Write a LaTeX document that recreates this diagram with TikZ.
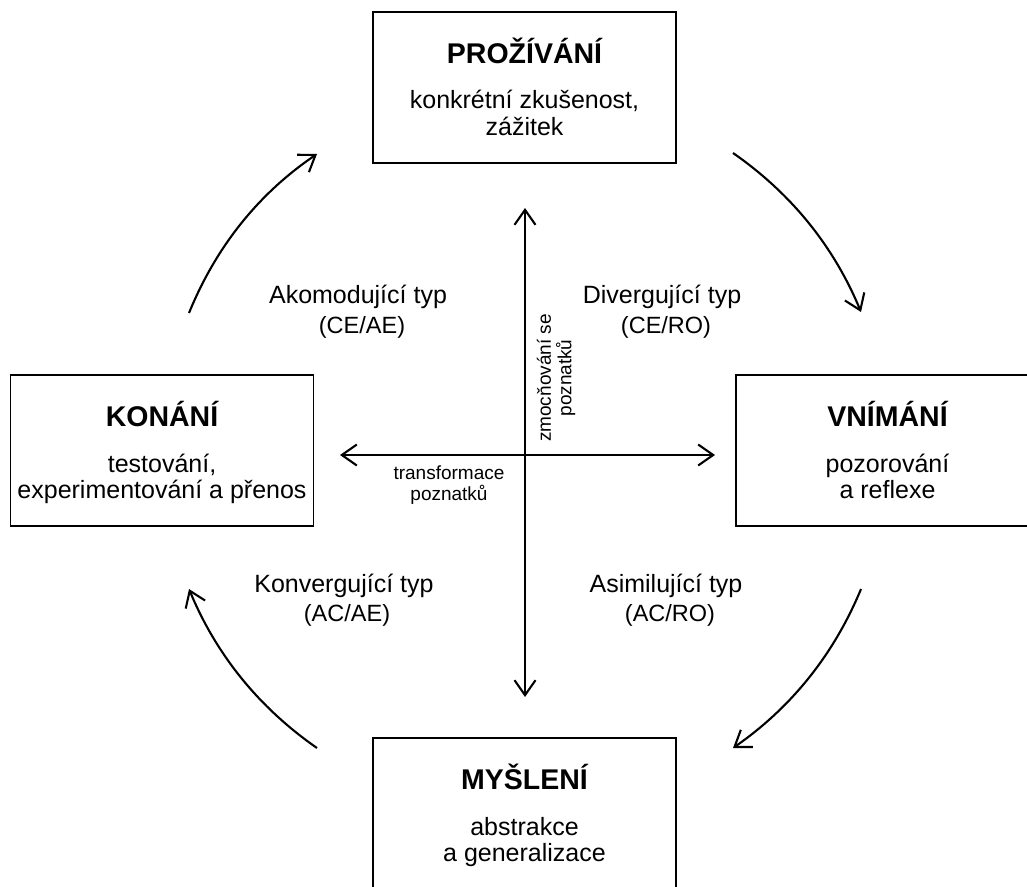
\documentclass[tikz,border=0pt]{standalone}
\usepackage{fontspec}
\setmainfont{Liberation Sans}
\usetikzlibrary{arrows.meta}
\tikzset{
  box/.style={draw, line width=1.3pt, minimum width=303pt, minimum height=151pt, inner sep=0pt},
  heading/.style={anchor=base, inner sep=0pt, font=\fontsize{28.5}{34}\selectfont\bfseries},
  body/.style={anchor=base, inner sep=0pt, font=\fontsize{25}{28}\selectfont},
  code/.style={anchor=base, inner sep=0pt, font=\fontsize{23.5}{28}\selectfont},
  small/.style={align=center, inner sep=0pt, font=\fontsize{19}{20.5}\selectfont},
  flow/.style={line width=2.1pt, -{Straight Barb[length=15pt,width=21pt]}},
  axis/.style={line width=2.1pt, {Straight Barb[length=15pt,width=21pt]}-{Straight Barb[length=15pt,width=21pt]}},
}
\begin{document}
\begin{tikzpicture}[x=1pt, y=-1pt]
\useasboundingbox (0,0) rectangle (1027,886);
\clip (0,0) rectangle (1027,886);

% the four stages of the cycle
\node[box] (prozivani) at (524.5,87.5) {};
\node[heading] (prozivaniT) at (524.5,63) {PROŽÍVÁNÍ};
\node[body] (prozivaniA) at (524.5,108) {konkrétní zkušenost,};
\node[body] (prozivaniB) at (524.5,135) {zážitek};

\node[box] (konani) at (162,450.5) {};
\node[heading] (konaniT) at (162,426) {KONÁNÍ};
\node[body] (konaniA) at (162,472) {testování,};
\node[body] (konaniB) at (162,498) {experimentování a přenos};

\node[box] (vnimani) at (887.5,450.5) {};
\node[heading] (vnimaniT) at (887.5,426) {VNÍMÁNÍ};
\node[body] (vnimaniA) at (887.5,472) {pozorování};
\node[body] (vnimaniB) at (887.5,498) {a reflexe};

\node[box] (mysleni) at (524.5,813.5) {};
\node[heading] (mysleniT) at (524.5,789) {MYŠLENÍ};
\node[body] (mysleniA) at (524.5,835) {abstrakce};
\node[body] (mysleniB) at (524.5,861) {a generalizace};

% learning styles in the quadrants
\node[body] (akomT) at (358,303) {Akomodující typ};
\node[code] (akomC) at (362,333) {(CE/AE)};
\node[body] (divT) at (662,303) {Divergující typ};
\node[code] (divC) at (666,333) {(CE/RO)};
\node[body] (konvT) at (344,592) {Konvergující typ};
\node[code] (konvC) at (347,621) {(AC/AE)};
\node[body] (asimT) at (666,592) {Asimilující typ};
\node[code] (asimC) at (670,621) {(AC/RO)};

% the two axes
\coordinate (vtop) at (525,208);
\coordinate (vbot) at (525,697);
\coordinate (hleft) at (340,455);
\coordinate (hright) at (715,455);
\draw[axis] (vbot) -- (vtop);
\draw[axis] (hleft) -- (hright);
\node[small, rotate=90] (zmoc) at (556,378) {zmocňování se\\poznatků};
\node[small] (transf) at (449,485) {transformace\\poznatků};

% curved arrows of the cycle
\coordinate (trS) at (733,153);  \coordinate (trE) at (861,312);
\coordinate (brS) at (861,589);  \coordinate (brE) at (733,748);
\coordinate (blS) at (317,748);  \coordinate (blE) at (189,589);
\coordinate (tlS) at (189,313);  \coordinate (tlE) at (317,154);
\draw[flow] (trS) .. controls (791.3,193.5) and (833.9,246.5) .. (trE);
\draw[flow] (brS) .. controls (833.9,654.5) and (791.3,707.5) .. (brE);
\draw[flow] (blS) .. controls (258.7,707.5) and (216.1,654.5) .. (blE);
\draw[flow] (tlS) .. controls (216.1,246.5) and (258.7,193.5) .. (tlE);
\end{tikzpicture}
\end{document}
